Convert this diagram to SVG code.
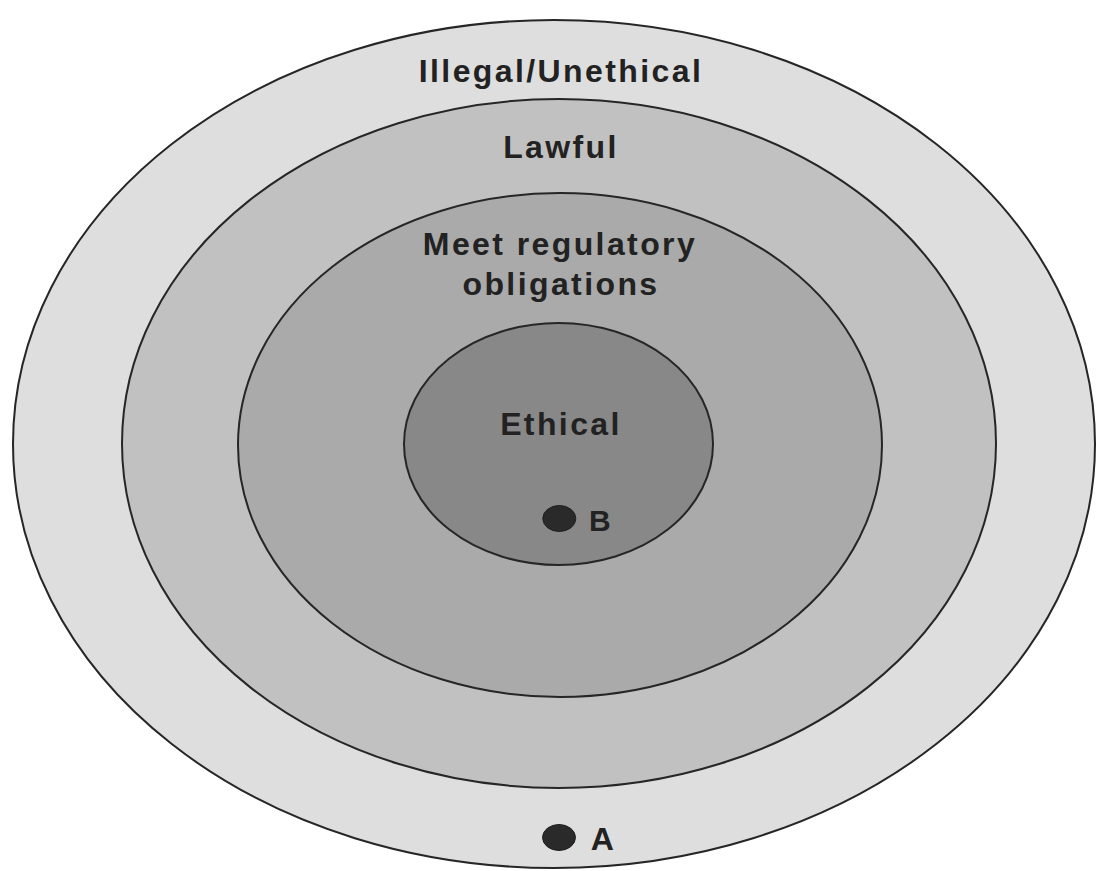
<svg xmlns="http://www.w3.org/2000/svg" width="1098" height="871" viewBox="0 0 1098 871">
  <style>
    .ring { stroke: #262626; stroke-width: 2; }
    .label { font-family: "Liberation Sans", Arial, sans-serif; font-weight: bold; fill: #222222; text-anchor: middle; letter-spacing: 2.4px; }
    .dot { fill: #2a2a2a; stroke: #1e1e1e; stroke-width: 1; }
  </style>
  <rect width="1098" height="871" fill="#ffffff"/>

  <g id="illegal-unethical">
    <ellipse class="ring" cx="554" cy="444" rx="541" ry="424" fill="#dedede"/>
    <text class="label" x="561" y="82" font-size="32">Illegal/Unethical</text>
  </g>

  <g id="lawful">
    <ellipse class="ring" cx="559" cy="443.5" rx="437" ry="344.5" fill="#c1c1c1"/>
    <text class="label" x="561" y="158" font-size="32">Lawful</text>
  </g>

  <g id="regulatory">
    <ellipse class="ring" cx="560" cy="445" rx="322" ry="252" fill="#aaaaaa"/>
    <text class="label" x="560" y="255" font-size="32">Meet regulatory</text>
    <text class="label" x="561" y="295" font-size="32">obligations</text>
  </g>

  <g id="ethical">
    <ellipse class="ring" cx="558.5" cy="444" rx="154.5" ry="121" fill="#888888" stroke-width="1.6"/>
    <text class="label" x="561" y="435" font-size="32">Ethical</text>
  </g>

  <g id="point-b">
    <ellipse class="dot" cx="559.3" cy="518.5" rx="16.5" ry="13"/>
    <text class="label" x="601" y="530.5" font-size="30" letter-spacing="0">B</text>
  </g>

  <g id="point-a">
    <ellipse class="dot" cx="559" cy="837.5" rx="16.5" ry="13"/>
    <text class="label" x="603.5" y="849.5" font-size="32" letter-spacing="0">A</text>
  </g>

  <g id="connectors"></g>
</svg>
